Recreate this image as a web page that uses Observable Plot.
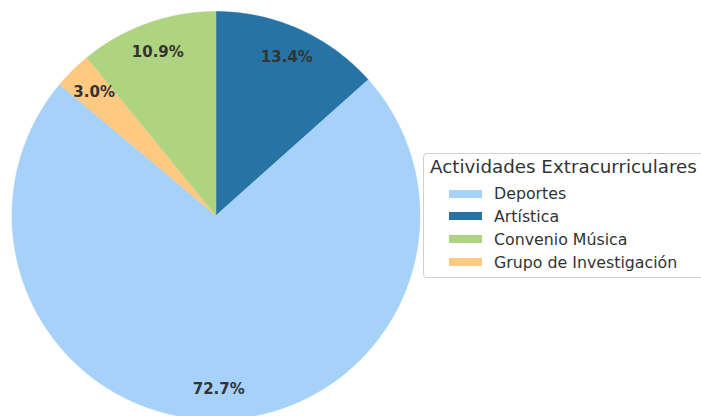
<!DOCTYPE html>
<html>
<head>
<meta charset="utf-8">
<script src="https://cdn.jsdelivr.net/npm/d3@7"></script>
<script src="https://cdn.jsdelivr.net/npm/@observablehq/plot@0.6"></script>
<style>
  html, body { margin: 0; padding: 0; background: #fff; }
  #wrap { position: relative; width: 701px; height: 416px; overflow: hidden; font-family: "DejaVu Sans", sans-serif; }
  #legend { position: absolute; left: 423px; top: 153px; width: 300px; height: 125px; box-sizing: border-box;
            border: 1px solid #d0d0d0; border-radius: 4px; background: rgba(255,255,255,0.8); color: #333; }
  #legend .title { position: absolute; left: 6px; top: 2px; font-size: 18.3px; line-height: 22px; white-space: nowrap; }
  #legend .item { position: absolute; left: 25px; font-size: 15.8px; white-space: nowrap; height: 20px; line-height: 20px; }
  #legend .sw { display: inline-block; width: 33px; height: 8px; vertical-align: middle; margin-right: 12px; position: relative; top: -1px; }
</style>
</head>
<body>
<div id="wrap"></div>
<script>
// Data
const legendOrder = ["Deportes", "Artística", "Convenio Música", "Grupo de Investigación"];
const legendColors = ["#a6d1f9", "#2773a5", "#afd481", "#fec981"];
// slice order drawn clockwise from 12 o'clock
const sliceLabels = ["Artística", "Deportes", "Grupo de Investigación", "Convenio Música"];
const sliceValues = [13.4, 72.7, 3.0, 10.9];
const legendTitle = "Actividades Extracurriculares";

const colorOf = Object.fromEntries(legendOrder.map((k, i) => [k, legendColors[i]]));
const total = d3.sum(sliceValues);

// Build wedge polygons (unit circle coords) and label anchors
const wedges = [];
const labels = [];
let acc = 0;
sliceLabels.forEach((name, i) => {
  const a0 = Math.PI / 2 - (acc / total) * 2 * Math.PI;
  acc += sliceValues[i];
  const a1 = Math.PI / 2 - (acc / total) * 2 * Math.PI;
  const n = Math.max(4, Math.ceil(Math.abs(a1 - a0) * 80));
  const pts = [{name, x: 0, y: 0}];
  for (let k = 0; k <= n; k++) {
    const a = a0 + (a1 - a0) * k / n;
    pts.push({name, x: Math.cos(a), y: Math.sin(a)});
  }
  pts.push({name, x: 0, y: 0});
  wedges.push({name, pts});
  const am = (a0 + a1) / 2;
  labels.push({name, x: 0.85 * Math.cos(am), y: 0.85 * Math.sin(am), text: (sliceValues[i] / total * 100).toFixed(1) + "%"});
});

const cx = 215.5, cy = 215, r = 204;
const chart = Plot.plot({
  width: 701,
  height: 416,
  margin: 0,
  x: {domain: [-1, 1], range: [cx - r, cx + r], axis: null},
  y: {domain: [-1, 1], range: [cy + r, cy - r], axis: null},
  style: {background: "white", fontFamily: "DejaVu Sans, sans-serif"},
  marks: [
    ...wedges.map(w => Plot.line(w.pts, {x: "x", y: "y", fill: colorOf[w.name], stroke: colorOf[w.name], strokeWidth: 0.5, curve: "linear"})),
    Plot.text(labels, {x: "x", y: "y", text: "text", fontWeight: "bold", fontSize: 15, fill: "#333"})
  ]
});
const wrap = document.getElementById("wrap");
wrap.appendChild(chart);

// Legend
const lg = document.createElement("div");
lg.id = "legend";
let html = `<div class="title">${legendTitle}</div>`;
legendOrder.forEach((k, i) => {
  html += `<div class="item" style="top:${30 + i * 22.9}px"><span class="sw" style="background:${legendColors[i]}"></span>${k}</div>`;
});
lg.innerHTML = html;
wrap.appendChild(lg);
</script>
</body>
</html>
